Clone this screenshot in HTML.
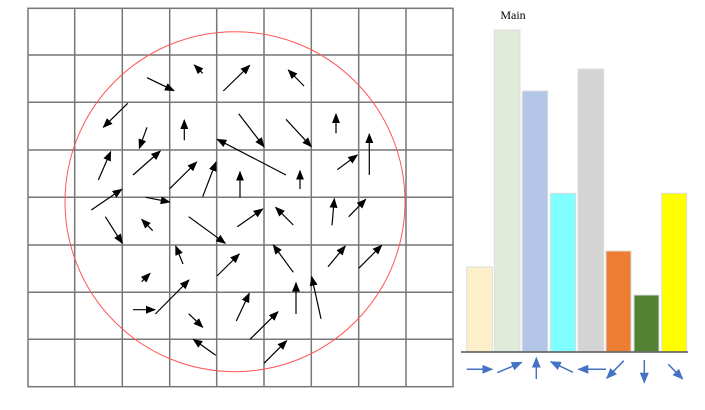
<!DOCTYPE html>
<html><head><style>html,body{margin:0;padding:0;background:#fff;width:705px;height:410px;overflow:hidden}</style></head>
<body>
<svg width="705" height="410" xmlns="http://www.w3.org/2000/svg">
<defs>
<marker id="a" markerUnits="userSpaceOnUse" markerWidth="10" markerHeight="8" refX="9" refY="4" orient="auto"><path d="M0,0 L10,4 L0,8 z" fill="#000"/></marker>
<marker id="b" markerUnits="userSpaceOnUse" markerWidth="11" markerHeight="9" refX="10" refY="4.5" orient="auto"><path d="M0,0 L11,4.5 L0,9 z" fill="#4472c4"/></marker>
</defs>
<g stroke="#777" stroke-width="1.5" fill="none">
<rect x="28" y="8.3" width="425" height="378.4"/>
<line x1="74.7" y1="8" x2="74.7" y2="387"/><line x1="122.3" y1="8" x2="122.3" y2="387"/><line x1="169.7" y1="8" x2="169.7" y2="387"/><line x1="216.7" y1="8" x2="216.7" y2="387"/><line x1="264" y1="8" x2="264" y2="387"/><line x1="311.3" y1="8" x2="311.3" y2="387"/><line x1="358.7" y1="8" x2="358.7" y2="387"/><line x1="406" y1="8" x2="406" y2="387"/>
<line x1="28" y1="55" x2="453" y2="55"/><line x1="28" y1="102.3" x2="453" y2="102.3"/><line x1="28" y1="150" x2="453" y2="150"/><line x1="28" y1="197.3" x2="453" y2="197.3"/><line x1="28" y1="245" x2="453" y2="245"/><line x1="28" y1="292.3" x2="453" y2="292.3"/><line x1="28" y1="339.3" x2="453" y2="339.3"/>
</g>
<circle cx="235" cy="201.7" r="170" fill="none" stroke="#f55" stroke-width="1"/>
<g stroke="#000" stroke-width="1.2" marker-end="url(#a)">
<line x1="147" y1="77.7" x2="174" y2="90.7"/><line x1="202.7" y1="73.3" x2="194.3" y2="65"/><line x1="223.3" y1="91" x2="249.7" y2="65.3"/><line x1="304" y1="86" x2="288.3" y2="70"/>
<line x1="127.7" y1="103.3" x2="103.3" y2="127.3"/><line x1="147" y1="127.3" x2="139.3" y2="148.3"/><line x1="184.3" y1="140.3" x2="184.3" y2="120"/><line x1="238.7" y1="113.7" x2="264" y2="146.7"/><line x1="286" y1="119.3" x2="311.3" y2="146.7"/><line x1="336" y1="133.3" x2="336" y2="114"/><line x1="369.3" y1="175" x2="369.3" y2="134"/><line x1="286" y1="175" x2="217.3" y2="139.3"/>
<line x1="98.3" y1="180" x2="110.7" y2="151.7"/><line x1="133" y1="175" x2="160.3" y2="151"/><line x1="169.7" y1="188.7" x2="196.7" y2="162"/><line x1="202.7" y1="196.7" x2="216" y2="162"/><line x1="240" y1="197.3" x2="240" y2="171.7"/><line x1="300" y1="189" x2="300" y2="170.7"/><line x1="337.3" y1="169.7" x2="357.3" y2="155"/>
<line x1="91.3" y1="210" x2="121.7" y2="189.3"/><line x1="145.7" y1="197.3" x2="169.7" y2="202"/><line x1="105.3" y1="216.7" x2="122.3" y2="243.3"/><line x1="152.7" y1="230.7" x2="141.7" y2="219.3"/><line x1="188.7" y1="216.7" x2="225.3" y2="243.3"/><line x1="237.3" y1="226.7" x2="262.7" y2="209"/><line x1="293.3" y1="225" x2="275.7" y2="207.3"/><line x1="332" y1="225.3" x2="334.3" y2="198.7"/><line x1="348.7" y1="216.7" x2="365.7" y2="199.3"/>
<line x1="183" y1="264" x2="175.7" y2="246"/><line x1="217" y1="276" x2="239.3" y2="254"/><line x1="293.3" y1="272.3" x2="273.3" y2="245"/><line x1="328" y1="266.7" x2="345.3" y2="246"/><line x1="358.7" y1="268.3" x2="381.7" y2="245.3"/>
<line x1="141.7" y1="281.7" x2="150" y2="273.3"/><line x1="133" y1="309.7" x2="155" y2="309.7"/><line x1="155.3" y1="314" x2="189" y2="280"/><line x1="296" y1="314" x2="296" y2="282.7"/><line x1="321" y1="318.7" x2="311.7" y2="276.7"/><line x1="188.7" y1="313.7" x2="202.7" y2="327.3"/><line x1="236.3" y1="321" x2="249.3" y2="293.3"/><line x1="250" y1="339.3" x2="278" y2="311.7"/><line x1="215.7" y1="355.3" x2="193.3" y2="339.3"/><line x1="264" y1="363.3" x2="286.7" y2="340.7"/>
</g>
<text x="513" y="19" font-family="Liberation Serif, serif" font-size="12" text-anchor="middle">Main</text>
<g stroke="#ddd" stroke-width="1">
<rect x="466.7" y="267" width="25.6" height="84.7" fill="#fdefc9"/>
<rect x="494.3" y="30" width="25.7" height="321.7" fill="#e0ecd9"/>
<rect x="522.3" y="91" width="25.4" height="260.7" fill="#b4c6e7"/>
<rect x="550.3" y="193.3" width="25.4" height="158.4" fill="#7fffff"/>
<rect x="578" y="69" width="25.7" height="282.7" fill="#d4d4d4"/>
<rect x="606" y="251" width="25" height="100.7" fill="#ed7d31"/>
<rect x="634" y="295" width="25" height="56.7" fill="#548235"/>
<rect x="661.7" y="193.3" width="25" height="158.4" fill="#ffff00"/>
</g>
<line x1="461" y1="352" x2="688" y2="352" stroke="#555" stroke-width="1.5"/>
<g stroke="#4472c4" stroke-width="1.5" marker-end="url(#b)">
<line x1="466.7" y1="369.3" x2="492.3" y2="369.3"/><line x1="497.3" y1="372.7" x2="521.7" y2="362.3"/><line x1="536.3" y1="379" x2="536.3" y2="357.7"/><line x1="573" y1="372.3" x2="550.7" y2="361.7"/><line x1="606" y1="369.3" x2="578.3" y2="369.3"/><line x1="623.7" y1="360.7" x2="606.7" y2="378.3"/><line x1="644.3" y1="360" x2="644.3" y2="382.7"/><line x1="668.3" y1="364.3" x2="682.7" y2="379"/>
</g>
</svg>
</body></html>
